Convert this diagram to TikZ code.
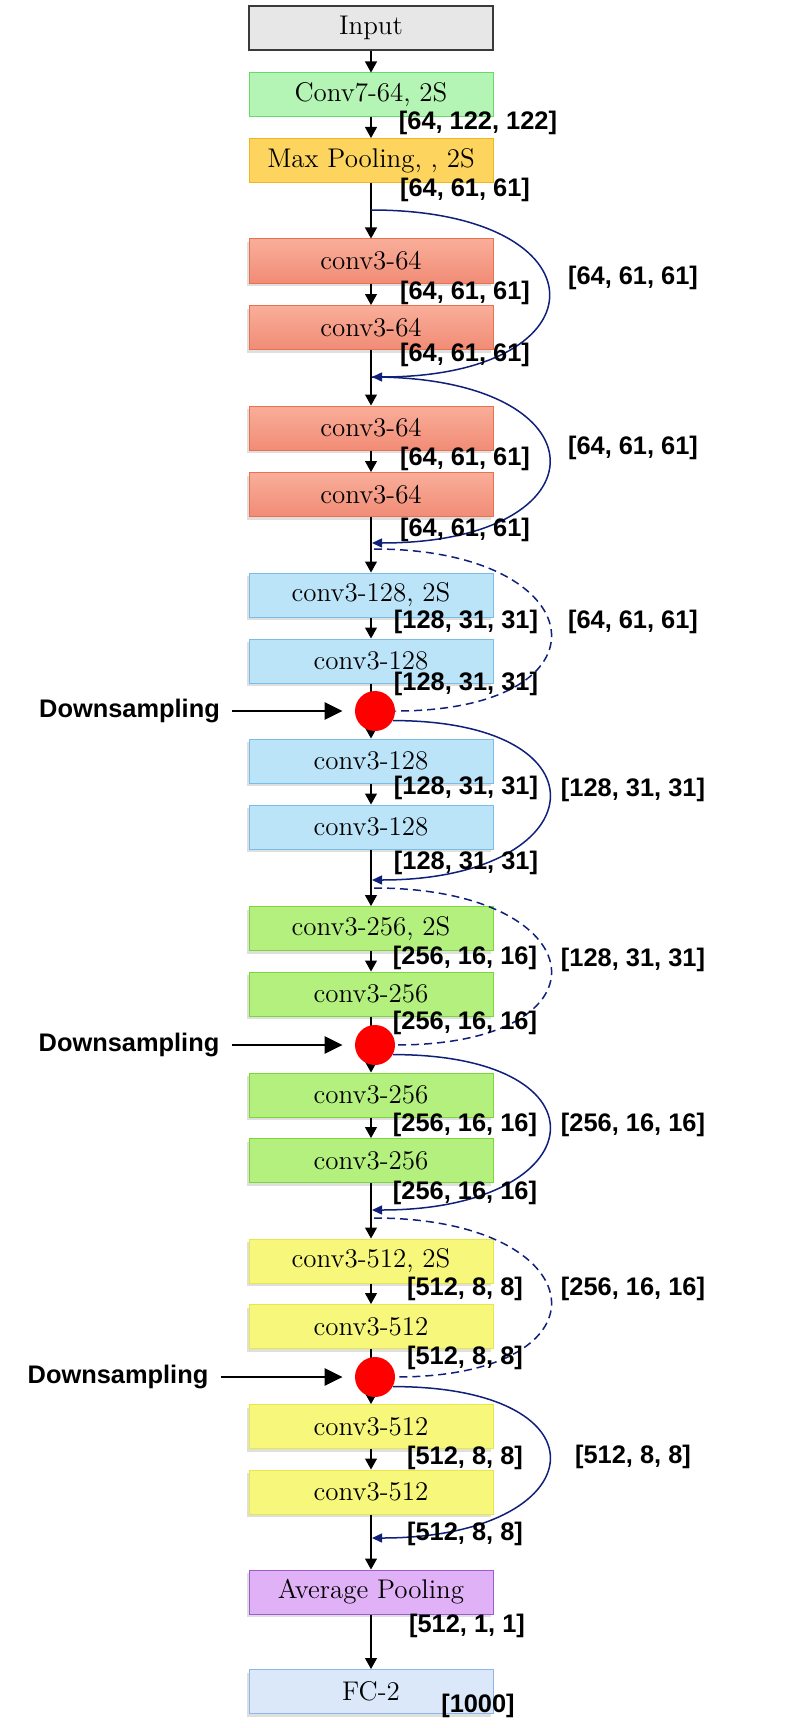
\documentclass[tikz,border=0pt]{standalone}
\usepackage{fontspec}
\newfontfamily\dimfont{Liberation Sans}
\usetikzlibrary{arrows.meta,shadows}

\definecolor{inputgray}{HTML}{E7E7E7}
\definecolor{inputline}{HTML}{3A3A3A}
\definecolor{convsevenfill}{HTML}{B4F4B4}
\definecolor{convsevenline}{HTML}{66D966}
\definecolor{poolfill}{HTML}{FDD55E}
\definecolor{poolline}{HTML}{F2B51C}
\definecolor{sixfourtop}{HTML}{F9AE9A}
\definecolor{sixfourbot}{HTML}{F18C76}
\definecolor{sixfourline}{HTML}{E9714F}
\definecolor{onetwoeightfill}{HTML}{BCE4F8}
\definecolor{onetwoeightline}{HTML}{79BEE8}
\definecolor{twofivesixfill}{HTML}{B3F07E}
\definecolor{twofivesixline}{HTML}{7CD63A}
\definecolor{fiveonetwofill}{HTML}{F6F77B}
\definecolor{fiveonetwoline}{HTML}{E6E84A}
\definecolor{avgfill}{HTML}{E1B1F7}
\definecolor{avgline}{HTML}{9C5CCF}
\definecolor{fcfill}{HTML}{DBE8FA}
\definecolor{fcline}{HTML}{8EB6EA}
\definecolor{navyblue}{HTML}{10207A}

\begin{document}
\begin{tikzpicture}[x=0.5pt,y=-0.5pt]
        \tikzstyle{layer} = [draw,minimum width=122pt,minimum height=22pt,inner sep=0pt,line width=0.5pt,font=\fontsize{13.5}{15}\selectfont]
        \tikzstyle{shadowed} = [drop shadow={shadow xshift=-1pt,shadow yshift=-1.5pt,opacity=0.25}]
        \tikzstyle{lsixfour} = [layer,shadowed,top color=sixfourtop,bottom color=sixfourbot,draw=sixfourline]
        \tikzstyle{lonetwoeight} = [layer,shadowed,fill=onetwoeightfill,draw=onetwoeightline]
        \tikzstyle{ltwofivesix} = [layer,shadowed,fill=twofivesixfill,draw=twofivesixline]
        \tikzstyle{lfiveonetwo} = [layer,shadowed,fill=fiveonetwofill,draw=fiveonetwoline]
        \tikzstyle{dims} = [inner sep=0pt,font=\fontsize{12.7}{14}\dimfont\bfseries]
        \tikzstyle{flow} = [-{Triangle[length=5.5pt,width=6pt]},line width=0.6pt]
        \tikzstyle{resline} = [navyblue,line width=0.75pt]
        \tikzstyle{resarrow} = [resline,-{Triangle[length=5pt,width=4.5pt]}]
        \tikzstyle{resdash} = [resline,dash pattern=on 4pt off 2.5pt]
        \tikzstyle{dsdot} = [circle,fill=red,minimum size=20pt,inner sep=0pt]
        \tikzstyle{dsarrow} = [-{Triangle[length=9pt,width=8.5pt]},line width=1.3pt,shorten <=6pt,shorten >=6pt]

        \useasboundingbox (0,0) rectangle (792,1728);

        % layers
        \node[layer,fill=inputgray,draw=inputline,line width=0.75pt] (inp) at (371,28) {Input};
        \node[layer,fill=convsevenfill,draw=convsevenline] (c7) at (371,95) {Conv7-64, 2S};
        \node[layer,fill=poolfill,draw=poolline] (mp) at (371,160.5) {Max Pooling, , 2S};

        \node[lsixfour] (c64a) at (371,261) {conv3-64};
        \node[lsixfour] (c64b) at (371,327.5) {conv3-64};
        \node[lsixfour] (c64c) at (371,428) {conv3-64};
        \node[lsixfour] (c64d) at (371,494.5) {conv3-64};

        \node[lonetwoeight] (c128a) at (371,595) {conv3-128, 2S};
        \node[lonetwoeight] (c128b) at (371,661) {conv3-128};
        \node[lonetwoeight] (c128c) at (371,761) {conv3-128};
        \node[lonetwoeight] (c128d) at (371,827) {conv3-128};

        \node[ltwofivesix] (c256a) at (371,928.5) {conv3-256, 2S};
        \node[ltwofivesix] (c256b) at (371,994) {conv3-256};
        \node[ltwofivesix] (c256c) at (371,1095) {conv3-256};
        \node[ltwofivesix] (c256d) at (371,1160.5) {conv3-256};

        \node[lfiveonetwo] (c512a) at (371,1261) {conv3-512, 2S};
        \node[lfiveonetwo] (c512b) at (371,1326.5) {conv3-512};
        \node[lfiveonetwo] (c512c) at (371,1426.5) {conv3-512};
        \node[lfiveonetwo] (c512d) at (371,1492) {conv3-512};

        \node[layer,shadowed,fill=avgfill,draw=avgline] (avg) at (371,1592) {Average Pooling};
        \node[layer,shadowed,fill=fcfill,draw=fcline] (fc) at (371,1691.5) {FC-2};

        % main flow
        \draw[flow] (inp) -- (c7);
        \draw[flow] (c7) -- (mp);
        \draw[flow] (mp) -- (c64a);
        \draw[flow] (c64a) -- (c64b);
        \draw[flow] (c64b) -- (c64c);
        \draw[flow] (c64c) -- (c64d);
        \draw[flow] (c64d) -- (c128a);
        \draw[flow] (c128a) -- (c128b);
        \draw[flow] (c128b) -- (c128c);
        \draw[flow] (c128c) -- (c128d);
        \draw[flow] (c128d) -- (c256a);
        \draw[flow] (c256a) -- (c256b);
        \draw[flow] (c256b) -- (c256c);
        \draw[flow] (c256c) -- (c256d);
        \draw[flow] (c256d) -- (c512a);
        \draw[flow] (c512a) -- (c512b);
        \draw[flow] (c512b) -- (c512c);
        \draw[flow] (c512c) -- (c512d);
        \draw[flow] (c512d) -- (avg);
        \draw[flow] (avg) -- (fc);

        % downsampling points
        \node[dsdot] (ds1) at (375,711) {};
        \node[dsdot] (ds2) at (375,1045) {};
        \node[dsdot] (ds3) at (375,1377) {};

        \node[dims] (dl1) at (129.5,711) {Downsampling};
        \node[dims] (dl2) at (129,1045) {Downsampling};
        \node[dims] (dl3) at (118,1377) {Downsampling};

        \draw[dsarrow] (dl1) -- (ds1);
        \draw[dsarrow] (dl2) -- (ds2);
        \draw[dsarrow] (dl3) -- (ds3);

        % shortcut joins
        \coordinate (j0) at (371,210);
        \coordinate (j1) at (372,377);
        \coordinate (j2) at (372,543);
        \coordinate (j2d) at (374,549);
        \coordinate (j3) at (372,880);
        \coordinate (j3d) at (374,888);
        \coordinate (j4) at (372,1210);
        \coordinate (j4d) at (374,1218);
        \coordinate (j5) at (372,1538);

        \draw[resarrow] (j0) .. controls +(236,0) and +(236,0) .. (j1);
        \draw[resarrow] (j1) .. controls +(236,0) and +(236,0) .. (j2);
        \draw[resdash] (j2d) .. controls +(222,0) and +(222,0) .. (ds1.east);
        \draw[resarrow] (ds1.-28) .. controls +(222,0) and +(222,0) .. (j3);
        \draw[resdash] (j3d) .. controls +(222,0) and +(222,0) .. (ds2.east);
        \draw[resarrow] (ds2.-28) .. controls +(222,0) and +(222,0) .. (j4);
        \draw[resdash] (j4d) .. controls +(222,0) and +(222,0) .. (ds3.east);
        \draw[resarrow] (ds3.-28) .. controls +(222,0) and +(222,0) .. (j5);

        % shapes under the layers
        \node[dims] (d0) at (478,123) {[64, 122, 122]};
        \node[dims] (d1) at (465,190) {[64, 61, 61]};
        \node[dims] (d2) at (465,293) {[64, 61, 61]};
        \node[dims] (d3) at (465,355) {[64, 61, 61]};
        \node[dims] (d4) at (465,459) {[64, 61, 61]};
        \node[dims] (d5) at (465,530) {[64, 61, 61]};
        \node[dims] (d6) at (466,622) {[128, 31, 31]};
        \node[dims] (d7) at (466,684) {[128, 31, 31]};
        \node[dims] (d8) at (466,788) {[128, 31, 31]};
        \node[dims] (d9) at (466,863) {[128, 31, 31]};
        \node[dims] (d10) at (465,958) {[256, 16, 16]};
        \node[dims] (d11) at (465,1023) {[256, 16, 16]};
        \node[dims] (d12) at (465,1125) {[256, 16, 16]};
        \node[dims] (d13) at (465,1193) {[256, 16, 16]};
        \node[dims] (d14) at (465,1289) {[512, 8, 8]};
        \node[dims] (d15) at (465,1358) {[512, 8, 8]};
        \node[dims] (d16) at (465,1458) {[512, 8, 8]};
        \node[dims] (d17) at (465,1534) {[512, 8, 8]};
        \node[dims] (d18) at (467,1626) {[512, 1, 1]};
        \node[dims] (d19) at (478,1706) {[1000]};

        % shapes on the shortcuts
        \node[dims] (s1) at (633,278) {[64, 61, 61]};
        \node[dims] (s2) at (633,448) {[64, 61, 61]};
        \node[dims] (s3) at (633,622) {[64, 61, 61]};
        \node[dims] (s4) at (633,790) {[128, 31, 31]};
        \node[dims] (s5) at (633,960) {[128, 31, 31]};
        \node[dims] (s6) at (633,1125) {[256, 16, 16]};
        \node[dims] (s7) at (633,1289) {[256, 16, 16]};
        \node[dims] (s8) at (633,1457) {[512, 8, 8]};

    \end{tikzpicture}
\end{document}
